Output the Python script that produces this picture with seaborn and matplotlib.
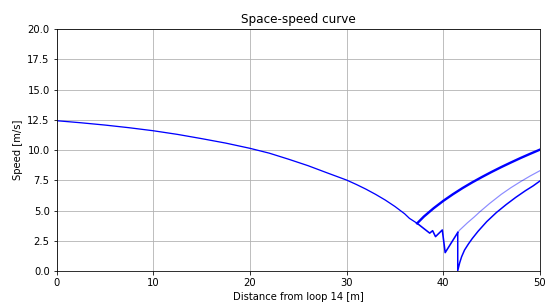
import pandas as pd
import matplotlib
matplotlib.use('Agg')
import matplotlib.pyplot as plt
import seaborn as sns

# --- Data ---
# approach: decelerating towards the stop line
main_x = [0, 2.5, 5, 7.5, 10, 12.5, 15, 17.5, 20, 22, 24, 26, 28, 30, 31, 32, 33, 34, 35, 36, 36.5, 37.3]
main_v = [12.43, 12.26, 12.07, 11.85, 11.6, 11.3, 10.95, 10.58, 10.15, 9.75, 9.25, 8.72, 8.12, 7.53, 7.17, 6.78, 6.35, 5.88, 5.35, 4.75, 4.37, 3.96]

# thick branch: accelerates away after ~37 m
branch_a_x = [37.3, 38, 39, 40, 41, 42, 43, 44, 45, 46, 47, 48, 49, 50]
branch_a_v = [3.96, 4.52, 5.2, 5.81, 6.36, 6.87, 7.34, 7.78, 8.2, 8.6, 8.98, 9.35, 9.7, 10.04]

# stop-and-go zigzag near the loop
zig_x = [37.3, 38.6, 38.9, 39.2, 39.9, 40.2, 41.5]
zig_v = [3.96, 3.15, 3.35, 2.86, 3.41, 1.54, 3.2]

# light branch after the zigzag
light_x = [41.5, 41.7, 42.5, 43.2, 43.8, 44.8, 46, 47, 48, 49, 50]
light_v = [3.2, 3.4, 4.0, 4.48, 4.92, 5.6, 6.35, 6.9, 7.4, 7.87, 8.3]

# dark branch: drops to standstill, then accelerates
low_x = [41.5, 41.5, 41.7, 41.9, 42.2, 42.6, 43.0, 43.6, 44.5, 45.5, 46.5, 47.5, 48.5, 49.3, 50]
low_v = [3.2, 0.05, 0.7, 1.2, 1.75, 2.25, 2.7, 3.3, 4.1, 4.85, 5.5, 6.1, 6.65, 7.05, 7.45]

# --- Plot ---
fig, ax = plt.subplots(figsize=(547 / 72, 302 / 72), dpi=72)
fig.subplots_adjust(left=0.1036, right=0.987, bottom=0.1017, top=0.904)

def draw(xs, vs, **kw):
    df = pd.DataFrame({'x': xs, 'v': vs})
    sns.lineplot(data=df, x='x', y='v', sort=False, estimator=None, color='blue', ax=ax, **kw)

draw(main_x, main_v, linewidth=1.3)
draw(branch_a_x, branch_a_v, linewidth=2.4)
draw(zig_x, zig_v, linewidth=1.6)
draw(light_x, light_v, linewidth=1.2, alpha=0.45)
draw(low_x, low_v, linewidth=1.5)

ax.set_xlim(0, 50)
ax.set_ylim(0, 20)
ax.grid(True, color='#b0b0b0')
ax.set_title('Space-speed curve')
ax.set_xlabel('Distance from loop 14 [m]')
ax.set_ylabel('Speed [m/s]')

plt.savefig('out.png', dpi=72)
